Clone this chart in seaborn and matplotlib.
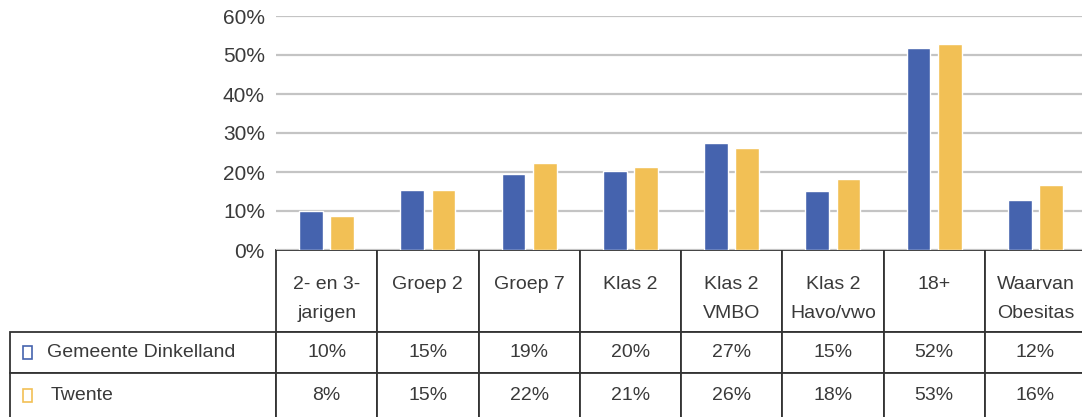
import pandas as pd
import seaborn as sns
import matplotlib.pyplot as plt
from matplotlib.ticker import PercentFormatter
from matplotlib.patches import Rectangle
from matplotlib.transforms import Affine2D

categories = ['2- en 3-\njarigen', 'Groep 2\n ', 'Groep 7\n ', 'Klas 2\n ',
              'Klas 2\nVMBO', 'Klas 2\nHavo/vwo', '18+\n ', 'Waarvan\nObesitas']
series = ['Gemeente Dinkelland', 'Twente']
# bar heights as drawn in the chart (%)
dinkelland = [10.1, 15.3, 19.4, 20.3, 27.4, 15.2, 51.9, 12.7]
twente = [8.8, 15.3, 22.3, 21.2, 26.2, 18.3, 52.8, 16.6]
# values printed in the data table
dinkelland_txt = ['10%', '15%', '19%', '20%', '27%', '15%', '52%', '12%']
twente_txt = ['8%', '15%', '22%', '21%', '26%', '18%', '53%', '16%']
colors = ['#4563AE', '#F2C055']

df = pd.DataFrame({
    'categorie': categories * 2,
    'reeks': [series[0]] * 8 + [series[1]] * 8,
    'waarde': dinkelland + twente,
})

sns.set_style('white')
plt.rcParams['font.family'] = ['Liberation Sans', 'DejaVu Sans']
text_col = '#3a3a3a'

W, H = 1082, 417
fig = plt.figure(figsize=(W / 100, H / 100), dpi=100)
# axes in pixels: left 276, right 1086, top 16, bottom 250
ax = fig.add_axes([276 / W, (H - 250) / H, 810 / W, 234 / H])

sns.barplot(data=df, x='categorie', y='waarde', hue='reeks', palette=colors,
            saturation=1, width=0.62, gap=0.24, legend=False, ax=ax,
            order=categories)

ax.set_ylim(0, 60)
ax.set_xlim(-0.5, 7.5)
ax.yaxis.set_major_formatter(PercentFormatter(decimals=0))
ax.set_yticks(range(0, 61, 10))
ax.tick_params(axis='y', length=0, pad=8, labelsize=15, labelcolor=text_col)
ax.set_xticks([])
ax.set_xlabel('')
ax.set_ylabel('')
ax.grid(axis='y', color='#c4c4c4', linewidth=1.6)
ax.set_axisbelow(True)
for s in ax.spines.values():
    s.set_visible(False)

# data table below the plot
col_px = [266] + [101.25] * 8
row_px = [82, 41, 46]
cell_text = [[''] + categories,
             ['Gemeente Dinkelland'] + dinkelland_txt,
             ['Twente'] + twente_txt]
tab = ax.table(cellText=cell_text, cellLoc='center',
               colWidths=[c / 810 for c in col_px],
               bbox=[-266 / 810, -sum(row_px) / 234, sum(col_px) / 810, sum(row_px) / 234])
tab.auto_set_font_size(False)
tab.set_fontsize(14)
for (r, c), cell in tab.get_celld().items():
    cell.set_height(row_px[r])
    cell.set_edgecolor('#333333')
    cell.set_linewidth(1.3)
    cell.get_text().set_color(text_col)
    if r == 0:
        cell.get_text().set_linespacing(1.85)
        # header text sits a little below the cell centre
        cell.get_text().set_transform(Affine2D().translate(0, -8))
    if r == 0 and c == 0:
        cell.visible_edges = ''
    if r > 0 and c == 0:
        cell.get_text().set_horizontalalignment('left')
        cell.PAD = (37 if r == 1 else 41) / 266

# hollow colour keys in front of the row labels
for i, col in enumerate(colors):
    p = 250 + 82 + 41 * i + (20.5 if i == 0 else 22)
    ax.add_patch(Rectangle(((23 - 276) / 810, (250 - p - 6.5) / 234), 9 / 810, 13 / 234,
                           transform=ax.transAxes, fill=False, edgecolor=col,
                           linewidth=1.2, clip_on=False))

fig.savefig('out.png', dpi=100)
